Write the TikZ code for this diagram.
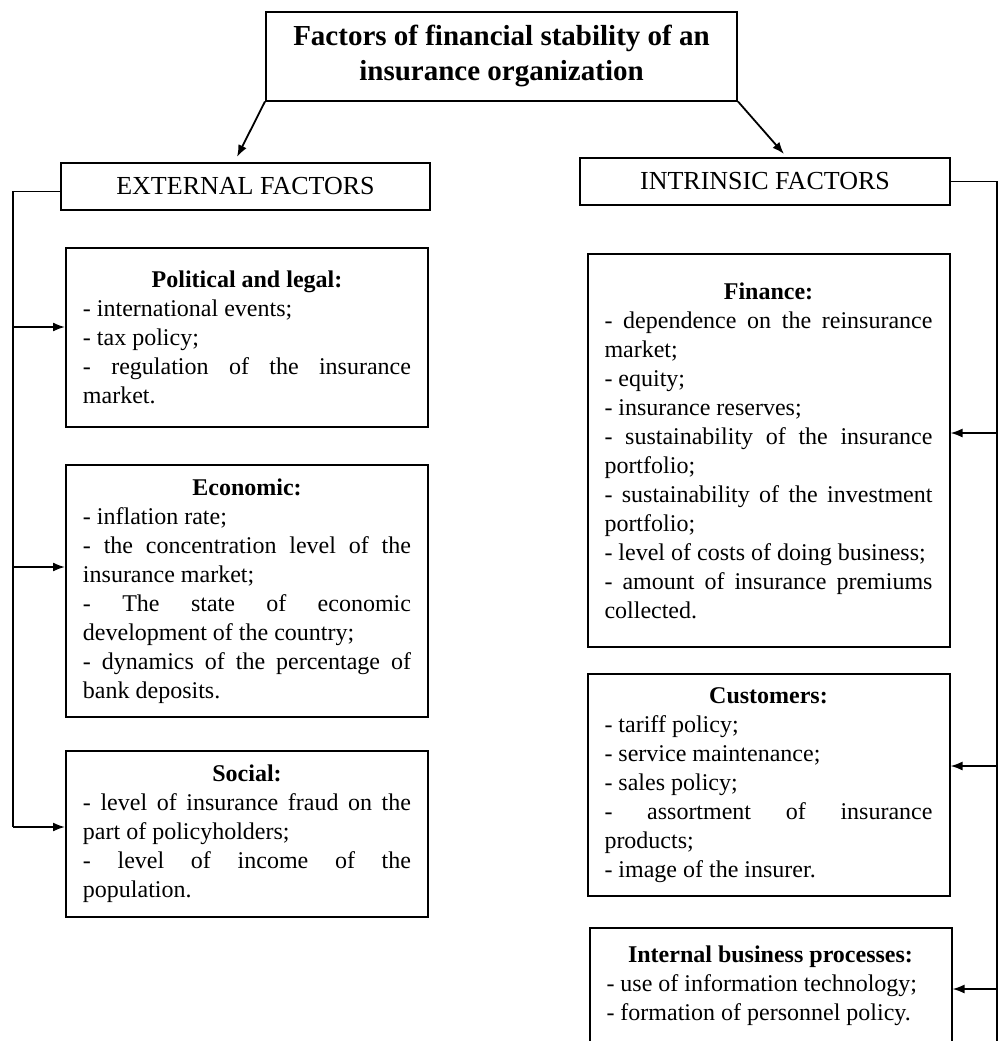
\documentclass[tikz,border=0pt]{standalone}
\usepackage{fontspec}
\setmainfont{Liberation Serif}
\usetikzlibrary{positioning,arrows.meta}
\hbadness=10000
\hyphenpenalty=10000

\begin{document}
\begin{tikzpicture}[
    x=0.5pt, y=-0.5pt,
    font=\fontsize{12}{14.5}\selectfont,
    hbox/.style={draw, line width=1pt, minimum width=#1, minimum height=23.5pt,
                 inner sep=0pt, font=\fontsize{13}{15}\selectfont},
    fbox/.style={draw, line width=1pt, text width=164pt, inner xsep=8.5pt,
                 inner ysep=0pt, minimum height=#1, align=justify},
    arr/.style={-{Latex[length=6pt,width=4.5pt]}, line width=0.9pt},
    bus/.style={line width=0.9pt}
  ]
    \useasboundingbox (0,0) rectangle (998,1041);
    \clip (0,0) rectangle (998,1041);

    \node[draw, line width=1pt, minimum width=235.5pt, minimum height=44.5pt,
          align=center, font=\fontsize{14.5}{17.5}\selectfont\bfseries] (TOP) at (501.5,56)
      {Factors of financial stability of an\\insurance organization};

    \node[hbox=184.5pt] (EXT) at (245.5,186.5) {EXTERNAL FACTORS};
    \node[hbox=185pt]   (INT) at (765,181.5)   {INTRINSIC FACTORS};

    \coordinate (EXTin) at (237,157);
    \coordinate (INTin) at (784,154);
    \draw[arr] (TOP.south west) -- (EXTin);
    \draw[arr] (TOP.south east) -- (INTin);

    \node[fbox=89.5pt] (POL) at (247,337.5)
      {{\centering\textbf{Political and legal:}\par}- international events;\par
       - tax policy;\par - regulation of the insurance\linebreak market.};
    \node[fbox=126pt] (ECO) at (247,591)
      {{\centering\textbf{Economic:}\par}- inflation rate;\par
       - the concentration level of the\linebreak insurance market;\par
       - The state of economic\linebreak development of the country;\par
       - dynamics of the percentage of\linebreak bank deposits.};
    \node[fbox=83pt] (SOC) at (247,834)
      {{\centering\textbf{Social:}\par}- level of insurance fraud on the\linebreak part of policyholders;\par
       - level of income of the\linebreak population.};

    \node[fbox=196.5pt] (FIN) at (768.5,450.5)
      {{\centering\textbf{Finance:}\par}- dependence on the reinsurance\linebreak market;\par
       - equity;\par - insurance reserves;\par
       - sustainability of the insurance\linebreak portfolio;\par
       - sustainability of the investment\linebreak portfolio;\par
       - level of costs of doing business;\par
       - amount of insurance premiums\linebreak collected.};
    \node[fbox=111pt] (CUS) at (768.5,785)
      {{\centering\textbf{Customers:}\par}- tariff policy;\par - service maintenance;\par
       - sales policy;\par - assortment of insurance\linebreak products;\par
       - image of the insurer.};
    \node[fbox=0pt, inner ysep=9pt, anchor=north] (BUS) at (770.5,927)
      {{\centering\textbf{Internal business processes:}\par}- use of information technology;\par
       - formation of personnel policy.\par\rule{0pt}{30pt}};

    \coordinate (L0) at (13,827);
    \coordinate (L1) at (13,327);
    \coordinate (L2) at (13,567);
    \draw[bus] ([yshift=-2.5pt]EXT.west) -| (L0);
    \draw[arr] (L1) -- (L1 -| POL.west);
    \draw[arr] (L2) -- (L2 -| ECO.west);
    \draw[arr] (L0) -- (L0 -| SOC.west);

    \coordinate (R0) at (997,1050);
    \coordinate (R1) at (997,433);
    \coordinate (R2) at (997,766);
    \coordinate (R3) at (997,989);
    \draw[bus] (INT.east) -| (R0);
    \draw[arr] (R1) -- (R1 -| FIN.east);
    \draw[arr] (R2) -- (R2 -| CUS.east);
    \draw[arr] (R3) -- (R3 -| BUS.east);
  \end{tikzpicture}
\end{document}
